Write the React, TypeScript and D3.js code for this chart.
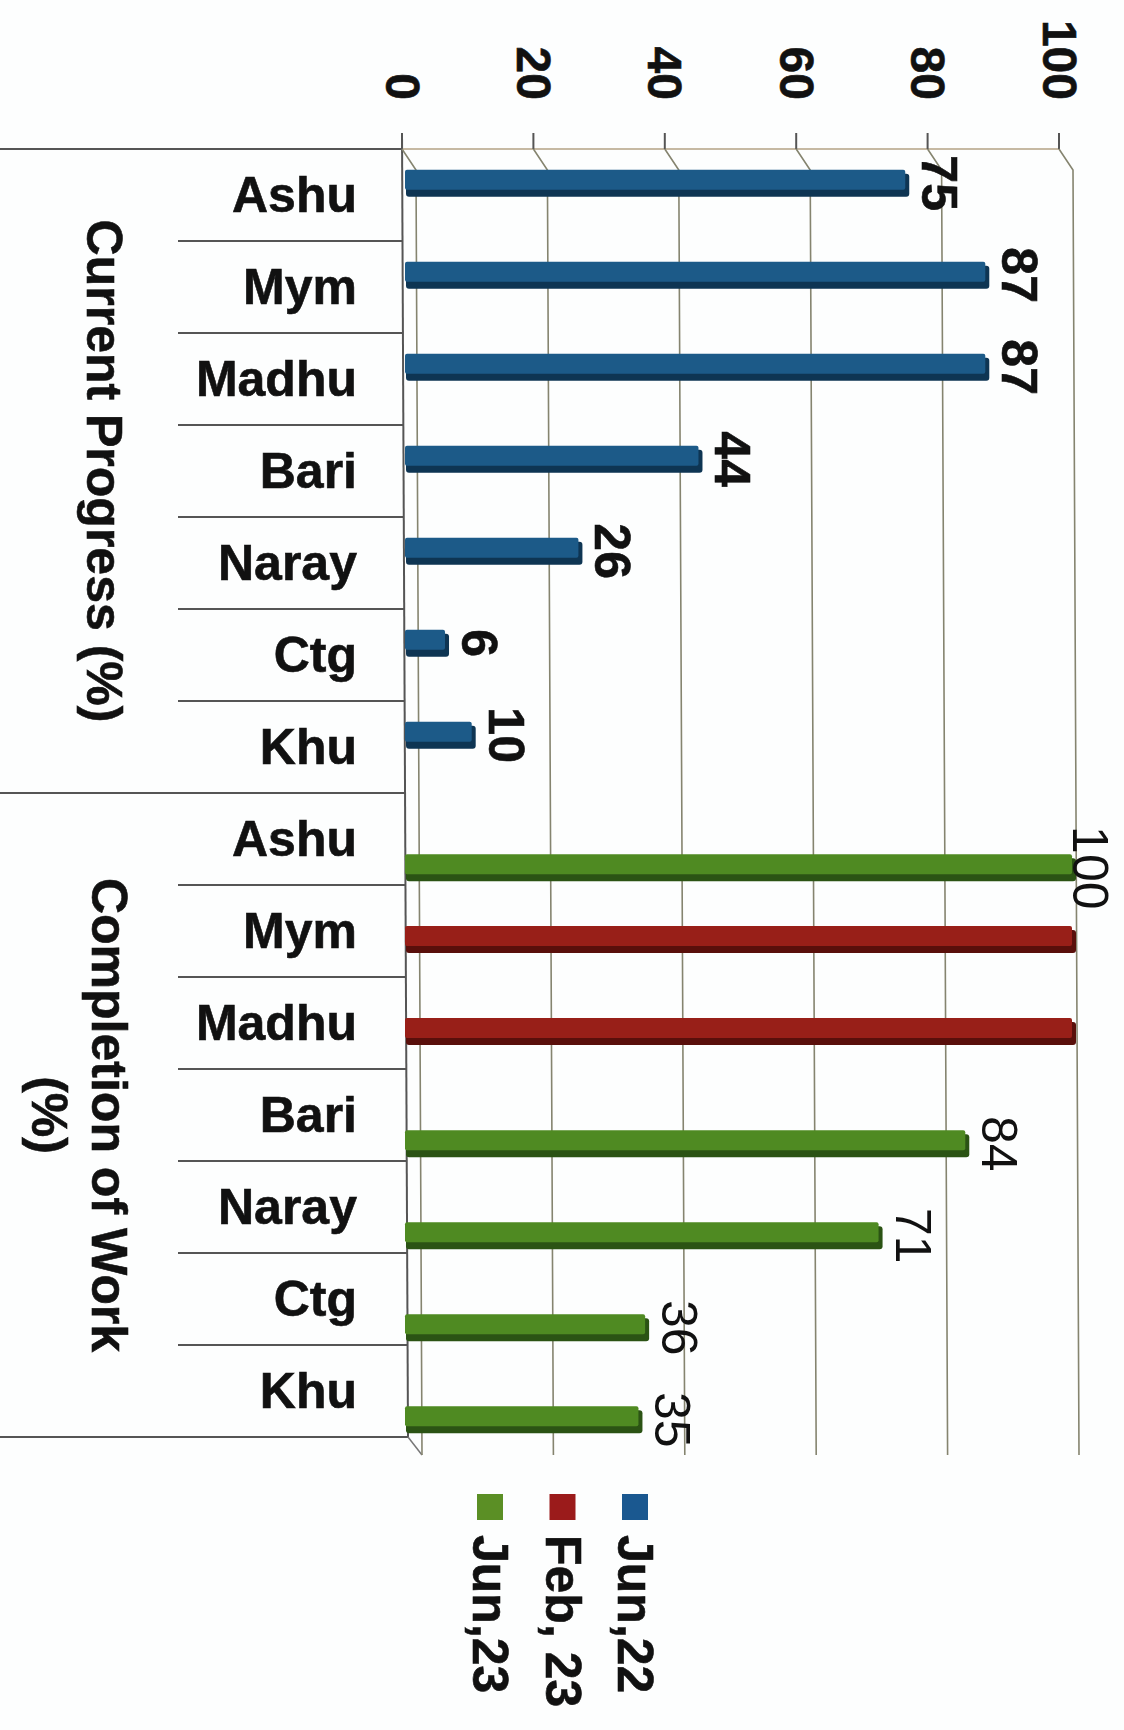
import * as d3 from "d3";
import React from "react";

const categories = ["Ashu", "Mym", "Madhu", "Bari", "Naray", "Ctg", "Khu"];
const groups = ["Current Progress (%)", "Completion of Work (%)"];
const seriesNames = ["Jun,22", "Feb, 23", "Jun,23"];
const seriesColors = ["#1c5a88", "#981f18", "#4f8a22"];
const seriesDark = ["#0e3553", "#590f0b", "#2b5314"];
const legendColors = ["#1a5890", "#9b1b1b", "#5b8f25"];
const labelWeight = ["bold", null, "normal"]; // null = no data labels

const currentJun22 = [75, 87, 87, 44, 26, 6, 10];
const completionFeb23 = [null, 100, 100, null, null, null, null];
const completionJun23 = [100, null, null, 84, 71, 36, 35];
const empty = categories.map(() => null);

// per group, one list per series
const groupValues = [
  [currentJun22, empty, empty],
  [empty, completionFeb23, completionJun23],
];

const valueTicks = [0, 20, 40, 60, 80, 100];

export default function App() {
  const width = 1124;
  const height = 1730;
  const font = "'Liberation Sans', Arial, Helvetica, sans-serif";
  const ink = "#111";

  const plotTop = 149;
  const plotBottom = 1437;
  const floorBottom = 1455;

  const rows = groups.flatMap((g) => categories.map((c) => g + "|" + c));
  const y = d3.scaleBand().domain(rows).range([plotTop, plotBottom]);
  const sub = d3.scaleBand().domain(seriesNames).range([24, 85]);

  // front plane (bars) and back wall (ticks)
  const x = d3.scaleLinear().domain([0, 100]).range([405, 1072]);
  const xBack = d3.scaleLinear().domain([0, 100]).range([402, 1059]);

  const axisX = (yy) => 402 + ((yy - 133) / (plotBottom - 133)) * 6;

  const bars = [];
  groups.forEach((g, gi) => {
    categories.forEach((c, ci) => {
      seriesNames.forEach((s, si) => {
        const v = groupValues[gi][si][ci];
        if (v == null) return;
        bars.push({ key: g + "|" + c, series: s, si, value: v });
      });
    });
  });

  const groupCenter = (g) => {
    const first = y(g + "|" + categories[0]);
    const last = y(g + "|" + categories[categories.length - 1]) + y.bandwidth();
    return (first + last) / 2;
  };

  const legendX = d3.scalePoint().domain(seriesNames).range([635, 490]);

  const boldText = { fontWeight: "bold", fill: ink, stroke: ink, strokeWidth: 0.6 };

  return (
    <svg
      width={width}
      height={height}
      style={{ position: "absolute", left: 0, top: 0, background: "#fdfefe" }}
      fontFamily={font}
    >
      {/* group separators */}
      {groups.map((g) => {
        const yy = y(g + "|" + categories[0]);
        return (
          <line key={g} x1={0} y1={yy} x2={axisX(yy)} y2={yy} stroke="#555" strokeWidth="2" />
        );
      })}
      <line x1={0} y1={plotBottom} x2={axisX(plotBottom)} y2={plotBottom} stroke="#555" strokeWidth="2" />

      {/* category separators */}
      {rows
        .filter((r) => !r.endsWith("|" + categories[0]))
        .map((r) => (
          <line key={r} x1={178} y1={y(r)} x2={axisX(y(r))} y2={y(r)} stroke="#555" strokeWidth="2" />
        ))}

      {/* walls and gridlines */}
      <line x1={axisX(133)} y1={133} x2={axisX(plotBottom)} y2={plotBottom} stroke="#555" strokeWidth="2" />
      <line x1={axisX(plotBottom)} y1={plotBottom} x2={axisX(plotBottom) + 14} y2={floorBottom} stroke="#777" strokeWidth="1.5" />
      <line x1={xBack(0)} y1={plotTop} x2={xBack(100)} y2={plotTop} stroke="#b3a284" strokeWidth="1.5" />
      {valueTicks.map((t) => (
        <g key={t} stroke="#85846f" fill="none">
          <line x1={xBack(t)} y1={133} x2={xBack(t)} y2={plotTop} stroke="#555" strokeWidth="2" />
          <polyline
            points={`${xBack(t)},${plotTop} ${xBack(t) + 14},170 ${xBack(t) + 20},${floorBottom}`}
            strokeWidth="1.6"
          />
        </g>
      ))}

      {/* axis labels */}
      {valueTicks.map((t) => (
        <text
          key={t}
          transform={`translate(${xBack(t)},100) rotate(90)`}
          textAnchor="end"
          dominantBaseline="central"
          fontSize="48"
          {...boldText}
        >
          {t}
        </text>
      ))}

      {/* bars */}
      {bars.map((b) => {
        const yc = y(b.key) + sub(b.series) + sub.bandwidth() / 2;
        const top = yc - 13.5;
        const x0 = x(0);
        const x1 = x(b.value);
        return (
          <g key={b.key + b.series}>
            <rect x={x0 + 1} y={top + 4} width={x1 - x0 + 3} height={23} rx={3} fill={seriesDark[b.si]} />
            <rect x={x0} y={top} width={x1 - x0} height={20} rx={2} fill={seriesColors[b.si]} />
          </g>
        );
      })}

      {/* data labels */}
      {bars
        .filter((b) => labelWeight[b.si])
        .map((b) => {
          const yc = y(b.key) + sub(b.series) + sub.bandwidth() / 2;
          const lx = Math.min(x(b.value) + 17, x(100) + 1);
          const isBold = labelWeight[b.si] === "bold";
          return (
            <text
              key={"l" + b.key + b.series}
              transform={`translate(${lx},${yc}) rotate(90)`}
              textAnchor="middle"
              fontSize="50"
              {...(isBold ? boldText : { fontWeight: "normal", fill: ink })}
            >
              {b.value}
            </text>
          );
        })}

      {/* category labels */}
      {rows.map((r) => (
        <text
          key={"c" + r}
          x={357}
          y={y(r) + y.bandwidth() / 2}
          textAnchor="end"
          dominantBaseline="central"
          fontSize="50"
          {...boldText}
        >
          {r.split("|")[1]}
        </text>
      ))}

      {/* group titles */}
      <text
        transform={`translate(104,${groupCenter(groups[0])}) rotate(90)`}
        textAnchor="middle"
        dominantBaseline="central"
        fontSize="50"
        {...boldText}
      >
        {groups[0]}
      </text>
      <text
        transform={`translate(109,${groupCenter(groups[1])}) rotate(90)`}
        textAnchor="middle"
        dominantBaseline="central"
        fontSize="50"
        {...boldText}
      >
        <tspan x="0" dy="0">{groups[1].replace(" (%)", "")}</tspan>
        <tspan x="0" dy="60">(%)</tspan>
      </text>

      {/* legend */}
      {seriesNames.map((s, i) => (
        <g key={"lg" + s}>
          <rect x={legendX(s) - 13} y={1494} width={26} height={26} fill={legendColors[i]} />
          <text
            transform={`translate(${legendX(s)},1535) rotate(90)`}
            textAnchor="start"
            dominantBaseline="central"
            fontSize="50"
            {...boldText}
          >
            {s}
          </text>
        </g>
      ))}
    </svg>
  );
}
